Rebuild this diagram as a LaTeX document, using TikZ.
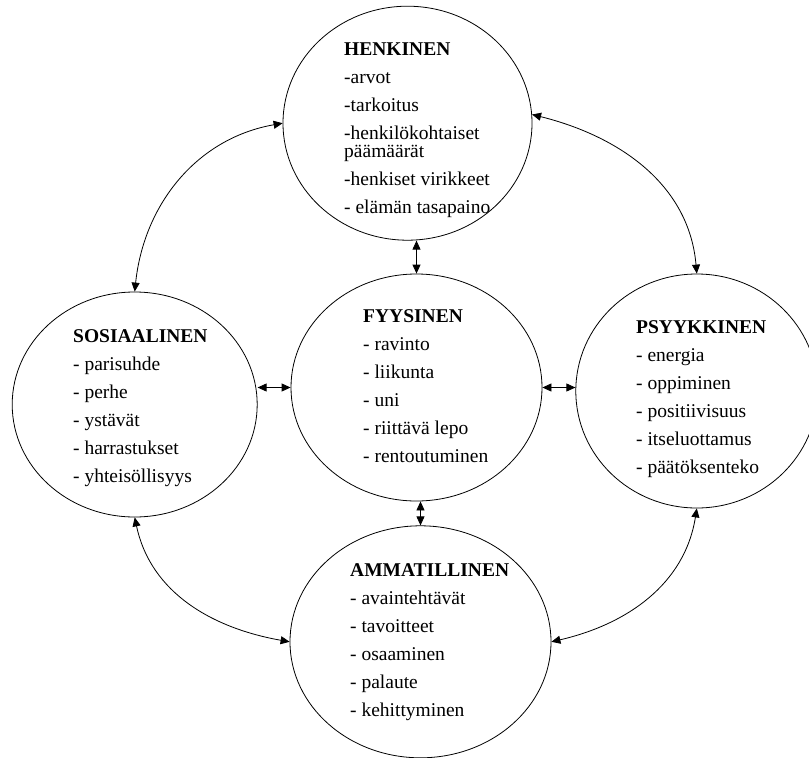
\documentclass[tikz,border=0pt]{standalone}
\usepackage{fontspec}
\setmainfont{Liberation Serif}
\usepackage{tikz}
\usetikzlibrary{positioning, arrows.meta, shapes.geometric}

\begin{document}
\begin{tikzpicture}[
    x=1pt, y=1pt,
    ring/.style={
        ellipse,
        draw=black,
        line width=0.8pt,
        inner sep=0pt
    },
    list/.style={
        anchor=base west,
        align=left,
        inner sep=0pt,
        font=\fontsize{19.5}{28}\selectfont
    },
    arrow/.style={
        {Triangle[length=9pt,width=8pt]}-{Triangle[length=9pt,width=8pt]},
        line width=0.8pt
    }
]
\useasboundingbox (0,0) rectangle (809,-758);

% Nodes
\node[ring, minimum width=251pt, minimum height=227pt] (fyys) at (416.5,-387.5) {};
\node[ring, minimum width=249pt, minimum height=234pt, above=33pt of fyys, xshift=-9pt] (henk) {};
\node[ring, minimum width=245pt, minimum height=225pt, left=33pt of fyys, yshift=-17pt] (sos) {};
\node[ring, minimum width=242pt, minimum height=234pt, right=33pt of fyys, yshift=-3.5pt] (psyk) {};
\node[ring, minimum width=261pt, minimum height=232pt, below=24pt of fyys, xshift=4pt] (amm) {};

% Texts (placed by the baseline of their last line)
\node[list] (henkT) at (344,-213) {\textbf{HENKINEN}\\-arvot\\-tarkoitus\\-henkilökohtaiset\\[-10pt]päämäärät\\-henkiset virikkeet\\- elämän tasapaino};
\node[list] (fyysT) at (363,-462) {\textbf{FYYSINEN}\\- ravinto\\- liikunta\\- uni\\- riittävä lepo\\- rentoutuminen};
\node[list] (sosT) at (73,-482) {\textbf{SOSIAALINEN}\\- parisuhde\\- perhe\\- ystävät\\- harrastukset\\- yhteisöllisyys};
\node[list] (psykT) at (636,-473) {\textbf{PSYYKKINEN}\\- energia\\- oppiminen\\- positiivisuus\\- itseluottamus\\- päätöksenteko};
\node[list] (ammT) at (350,-716) {\textbf{AMMATILLINEN}\\- avaintehtävät\\- tavoitteet\\- osaaminen\\- palaute\\- kehittyminen};

% Arrows
\draw[arrow] (henk.south -| fyys.north) -- (fyys.north);
\draw[arrow] (fyys.south -| amm.north) -- (amm.north);
\draw[arrow] (fyys.west -| sos.east) -- (fyys.west);
\draw[arrow] (fyys.east) -- (fyys.east -| psyk.west);

% Outer ring
\draw[arrow] (henk.west) to[out=190,in=84] (sos.north);
\draw[arrow] (henk.4) to[out=-14,in=95] (psyk.north);
\draw[arrow] (sos.south) to[out=-78,in=170] (amm.west);
\draw[arrow] (amm.east) to[out=13,in=-99] (psyk.south);
\end{tikzpicture}
\end{document}
